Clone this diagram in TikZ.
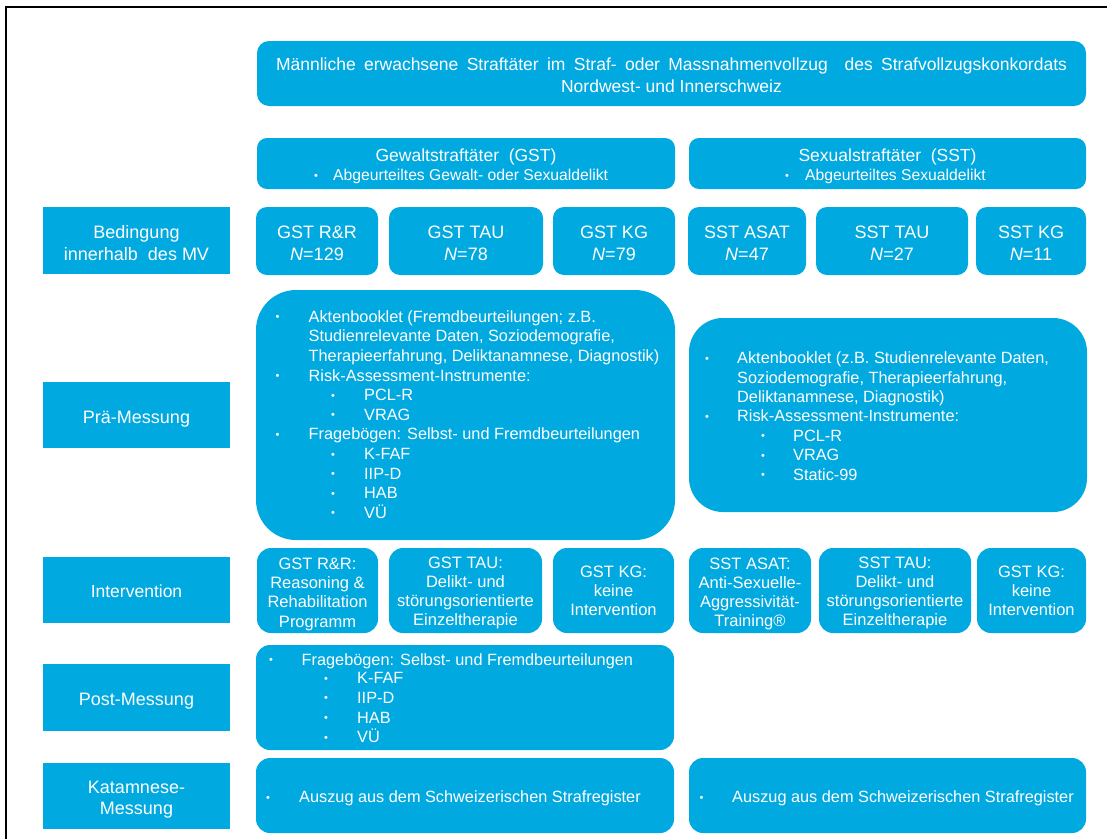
\documentclass[tikz,border=0pt]{standalone}
\usepackage{fontspec}
\setmainfont{Liberation Sans}
\definecolor{ablue}{RGB}{0,169,224}
\newcommand\fsz[1]{\fontsize{#1}{#1}\selectfont}
\newcommand\bul{\raisebox{1.5pt}{\fsz{11}\textbullet}}
\newcommand\li[5]{\node[lst] (#1) at (#2,#3) {\makebox[#4pt][l]{\bul}#5};}
\newcommand\lc[4]{\node[lst] (#1) at (#2,#3) {#4};}
\begin{document}
\begin{tikzpicture}[x=1pt,y=-1pt,
  box/.style={fill=ablue, draw=none, rounded corners=11pt, inner sep=0pt},
  lab/.style={fill=ablue, draw=none, inner sep=0pt},
  txt/.style={text=white, inner sep=0pt, anchor=base},
  lst/.style={text=white, inner sep=0pt, anchor=base west, font=\fsz{16.3}},
  big/.style={font=\fsz{18}},
  mid/.style={font=\fsz{17.5}},
  itv/.style={font=\fsz{16.5}}]
\useasboundingbox (0,0) rectangle (1107,838);
\draw[line width=2.2pt] (6,840) -- (6,7) -- (1107,7);

% ---------- boxes ----------
\node[box, rounded corners=12pt, minimum width=829pt, minimum height=65pt] (top) at (671.5,73.5) {};
\node[box, rounded corners=10pt, minimum width=418pt, minimum height=51pt] (gsth) at (466,163.5) {};
\node[box, rounded corners=10pt, minimum width=397pt, minimum height=51pt] (ssth) at (887.5,163.5) {};

\node[lab, minimum width=187pt, minimum height=67pt] (lbed) at (136.5,240.5) {};
\node[lab, minimum width=187pt, minimum height=66pt] (lpre) at (136.5,415) {};
\node[lab, minimum width=187pt, minimum height=66pt] (lint) at (136.5,590) {};
\node[lab, minimum width=187pt, minimum height=67pt] (lpost) at (136.5,697.5) {};
\node[lab, minimum width=187pt, minimum height=66pt] (lkat) at (136.5,796) {};

\node[box, minimum width=122pt, minimum height=68pt] (b1) at (317,241) {};
\node[box, minimum width=154pt, minimum height=68pt] (b2) at (466,241) {};
\node[box, minimum width=122pt, minimum height=68pt] (b3) at (614,241) {};
\node[box, minimum width=118pt, minimum height=68pt] (b4) at (747,241) {};
\node[box, minimum width=152pt, minimum height=68pt] (b5) at (892,241) {};
\node[box, minimum width=110pt, minimum height=68pt] (b6) at (1031,241) {};

\node[box, rounded corners=40pt, minimum width=419pt, minimum height=250pt] (pg) at (465.5,415) {};
\node[box, rounded corners=34pt, minimum width=398pt, minimum height=194pt] (ps) at (888,415) {};

\node[box, rounded corners=14pt, minimum width=121pt, minimum height=85pt] (i1) at (317.5,590.5) {};
\node[box, rounded corners=14pt, minimum width=153pt, minimum height=85pt] (i2) at (465.5,590.5) {};
\node[box, rounded corners=14pt, minimum width=121pt, minimum height=85pt] (i3) at (613.5,590.5) {};
\node[box, rounded corners=14pt, minimum width=122pt, minimum height=85pt] (i4) at (750,590.5) {};
\node[box, rounded corners=14pt, minimum width=152pt, minimum height=85pt] (i5) at (895,590.5) {};
\node[box, rounded corners=14pt, minimum width=109pt, minimum height=85pt] (i6) at (1031.5,590.5) {};

\node[box, rounded corners=14pt, minimum width=418pt, minimum height=105pt] (post) at (465,697.5) {};
\node[box, rounded corners=14pt, minimum width=418pt, minimum height=75pt] (kg) at (465,795.5) {};
\node[box, rounded corners=14pt, minimum width=397pt, minimum height=75pt] (ks) at (887.5,795.5) {};

% ---------- texts ----------
\node[txt, mid] (t1) at (671.5,70.3) {\makebox[791pt][s]{Männliche erwachsene Straftäter im Straf- oder Massnahmenvollzug \ des Strafvollzugskonkordats}};
\node[txt, mid] (t2) at (671.5,92.3) {Nordwest- und Innerschweiz};

\node[txt, mid] (gt1) at (466,161.3) {Gewaltstraftäter \ (GST)};
\node[lst, font=\fsz{15.7}] (gt2) at (314,180.5) {\makebox[19pt][l]{\bul}Abgeurteiltes Gewalt- oder Sexualdelikt};
\node[txt, mid] (st1) at (887.5,161.3) {Sexualstraftäter \ (SST)};
\node[lst, font=\fsz{15.7}] (st2) at (785,180.5) {\makebox[20pt][l]{\bul}Abgeurteiltes Sexualdelikt};

\node[txt, big] (lb1) at (136.5,238.4) {Bedingung};
\node[txt, big] (lb2) at (136.5,260.4) {innerhalb \ des MV};
\node[txt, big] (lp1) at (136.5,423) {Prä-Messung};
\node[txt, mid] (li1) at (136.5,597) {Intervention};
\node[txt, big] (lo1) at (136.5,705) {Post-Messung};
\node[txt, big] (lk1) at (136.5,793.4) {Katamnese-};
\node[txt, big] (lk2) at (136.5,814.4) {Messung};

\node[txt, big] (b1a) at (317,238.4) {GST R\&R};
\node[txt, big] (b1b) at (317,260.4) {\textit{N}=129};
\node[txt, big] (b2a) at (466,238.4) {GST TAU};
\node[txt, big] (b2b) at (466,260.4) {\textit{N}=78};
\node[txt, big] (b3a) at (614,238.4) {GST KG};
\node[txt, big] (b3b) at (614,260.4) {\textit{N}=79};
\node[txt, big] (b4a) at (747,238.4) {SST ASAT};
\node[txt, big] (b4b) at (747,260.4) {\textit{N}=47};
\node[txt, big] (b5a) at (892,238.4) {SST TAU};
\node[txt, big] (b5b) at (892,260.4) {\textit{N}=27};
\node[txt, big] (b6a) at (1031,238.4) {SST KG};
\node[txt, big] (b6b) at (1031,260.4) {\textit{N}=11};

% Prä GST
\li{pg1}{275.5}{322.3}{33}{Aktenbooklet (Fremdbeurteilungen; z.B.}
\lc{pg2}{308.5}{341.9}{Studienrelevante Daten, Soziodemografie,}
\lc{pg3}{308.5}{361.5}{Therapieerfahrung, Deliktanamnese, Diagnostik)}
\li{pg4}{275.5}{381.1}{33}{Risk-Assessment-Instrumente:}
\li{pg5}{331}{400.7}{33}{PCL-R}
\li{pg6}{331}{420.3}{33}{VRAG}
\li{pg7}{275.5}{439.9}{33}{Fragebögen: Selbst- und Fremdbeurteilungen}
\li{pg8}{331}{459.5}{33}{K-FAF}
\li{pg9}{331}{479.1}{33}{IIP-D}
\li{pg10}{331}{498.7}{33}{HAB}
\li{pg11}{331}{518.3}{33}{VÜ}

% Prä SST
\li{ps1}{705}{363.7}{32}{Aktenbooklet (z.B. Studienrelevante Daten,}
\lc{ps2}{737}{383.1}{Soziodemografie, Therapieerfahrung,}
\lc{ps3}{737}{402.5}{Deliktanamnese, Diagnostik)}
\li{ps4}{705}{421.9}{32}{Risk-Assessment-Instrumente:}
\li{ps5}{761}{441.3}{32}{PCL-R}
\li{ps6}{761}{460.7}{32}{VRAG}
\li{ps7}{761}{480.1}{32}{Static-99}

% Intervention
\node[txt, itv] (i1a) at (317.5,569) {GST R\&R:};
\node[txt, itv] (i1b) at (317.5,588) {Reasoning \&};
\node[txt, itv] (i1c) at (317.5,607) {Rehabilitation};
\node[txt, itv] (i1d) at (317.5,627) {Programm};
\node[txt, itv] (i2a) at (465.5,568) {GST TAU:};
\node[txt, itv] (i2b) at (465.5,587) {Delikt- und};
\node[txt, itv] (i2c) at (465.5,606) {störungsorientierte};
\node[txt, itv] (i2d) at (465.5,625) {Einzeltherapie};
\node[txt, itv] (i3a) at (613.5,577) {GST KG:};
\node[txt, itv] (i3b) at (613.5,596) {keine};
\node[txt, itv] (i3c) at (613.5,615) {Intervention};
\node[txt, itv] (i4a) at (750,569) {SST ASAT:};
\node[txt, itv] (i4b) at (750,588) {Anti-Sexuelle-};
\node[txt, itv] (i4c) at (750,607) {Aggressivität-};
\node[txt, itv] (i4d) at (750,626) {Training®};
\node[txt, itv] (i5a) at (895,568) {SST TAU:};
\node[txt, itv] (i5b) at (895,587) {Delikt- und};
\node[txt, itv] (i5c) at (895,606) {störungsorientierte};
\node[txt, itv] (i5d) at (895,625) {Einzeltherapie};
\node[txt, itv] (i6a) at (1031.5,577) {GST KG:};
\node[txt, itv] (i6b) at (1031.5,596) {keine};
\node[txt, itv] (i6c) at (1031.5,615) {Intervention};

% Post
\li{po1}{269}{665}{32.5}{Fragebögen: Selbst- und Fremdbeurteilungen}
\li{po2}{324}{683.5}{33}{K-FAF}
\li{po3}{324}{703}{33}{IIP-D}
\li{po4}{324}{723}{33}{HAB}
\li{po5}{324}{742.5}{33}{VÜ}

% Katamnese
\li{kg1}{266}{802.7}{33}{Auszug aus dem Schweizerischen Strafregister}
\li{ks1}{699.5}{802.7}{32.5}{Auszug aus dem Schweizerischen Strafregister}
\end{tikzpicture}
\end{document}
